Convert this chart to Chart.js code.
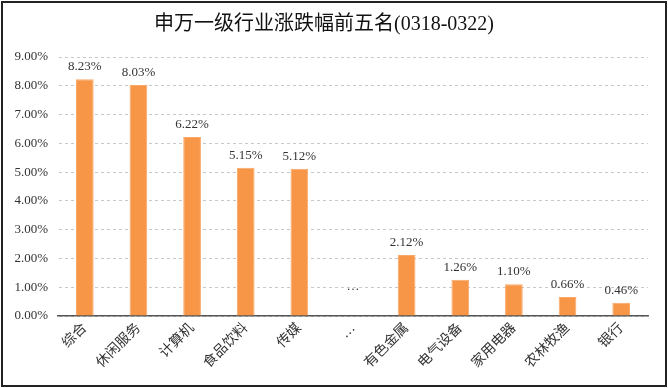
<!DOCTYPE html>
<html>
<head>
<meta charset="utf-8">
<script src="https://cdn.jsdelivr.net/npm/chart.js@4/dist/chart.umd.min.js"></script>
<style>
  html, body { margin: 0; padding: 0; background: #fff; }
  #wrap { width: 668px; height: 388px; position: relative; }
</style>
</head>
<body>
<div id="wrap"><canvas id="chart"></canvas></div>
<script>
// 申万一级行业涨跌幅 前五名 / 后五名
const categories = ['综合', '休闲服务', '计算机', '食品饮料', '传媒', '…', '有色金属', '电气设备', '家用电器', '农林牧渔', '银行'];
const changes = [8.23, 8.03, 6.22, 5.15, 5.12, null, 2.12, 1.26, 1.10, 0.66, 0.46];
const yTicks = [0, 1, 2, 3, 4, 5, 6, 7, 8, 9];
const gapMarkLevel = 0.8; // where the "…" sits inside the plot

const FONT = "'Liberation Serif', 'Noto Sans CJK SC', serif";

// labels above bars + the ellipsis in the gap
const barLabels = {
    id: 'barLabels',
    afterDatasetsDraw(chart) {
        const ctx = chart.ctx;
        const meta = chart.getDatasetMeta(0);
        ctx.save();
        ctx.fillStyle = '#333';
        ctx.font = '13px ' + FONT;
        ctx.textAlign = 'center';
        ctx.textBaseline = 'bottom';
        meta.data.forEach((bar, i) => {
            if (changes[i] === null) {
                const x = chart.scales.x.getPixelForValue(i);
                const y = chart.scales.y.getPixelForValue(gapMarkLevel);
                ctx.fillText('…', x, y);
                return;
            }
            ctx.fillText(changes[i].toFixed(2) + '%', bar.x, bar.y - 6);
        });
        ctx.restore();
    }
};

// outer frame
const frame = {
    id: 'frame',
    afterDraw(chart) {
        const ctx = chart.ctx;
        ctx.save();
        ctx.strokeStyle = '#222';
        ctx.lineWidth = 2;
        ctx.strokeRect(2, 2, chart.width - 4, chart.height - 4);
        ctx.restore();
    }
};

let ctx = document.getElementById('chart').getContext('2d');
let chart = new Chart(ctx, {
    type: 'bar',
    data: {
        labels: categories,
        datasets: [{
            data: changes,
            backgroundColor: '#F79646',
            borderColor: '#F9A868',
            borderWidth: 1,
            barPercentage: 0.33,
            categoryPercentage: 1
        }]
    },
    options: {
        responsive: true,
        maintainAspectRatio: false,
        animation: false,
        layout: { padding: { top: 10, right: 20, bottom: 4, left: 0 } },
        scales: {
            x: {
                grid: { display: false, drawTicks: false },
                border: { color: '#555', width: 1.5 },
                ticks: {
                    color: '#333',
                    font: { size: 14, family: FONT },
                    minRotation: 45,
                    maxRotation: 45,
                    padding: 4
                },
                afterFit(scale) { scale.height = 68; }
            },
            y: {
                min: 0,
                max: 9,
                afterBuildTicks(scale) { scale.ticks = yTicks.map(v => ({ value: v })); },
                grid: { color: '#c8c8c8', drawTicks: false },
                border: { display: true, color: 'rgba(0,0,0,0)', dash: [3, 3] },
                ticks: {
                    color: '#333',
                    font: { size: 13, family: FONT },
                    padding: 10,
                    callback: v => v.toFixed(2) + '%'
                },
                afterFit(scale) { scale.width = 58; }
            }
        },
        plugins: {
            legend: { display: false },
            tooltip: { enabled: false },
            title: {
                display: true,
                text: '申万一级行业涨跌幅前五名(0318-0322)',
                color: '#111',
                font: { size: 20, weight: 'normal', family: FONT },
                padding: { top: 3, bottom: 20 }
            }
        }
    },
    plugins: [barLabels, frame]
});
</script>
</body>
</html>
